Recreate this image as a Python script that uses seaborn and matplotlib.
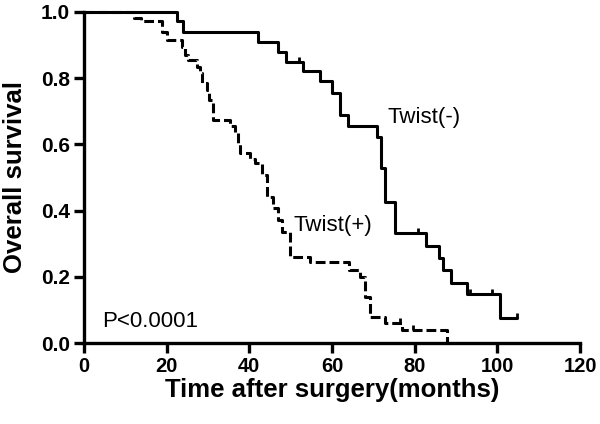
import numpy as np
import pandas as pd
import matplotlib
matplotlib.use("Agg")
import matplotlib.pyplot as plt
import seaborn as sns
from matplotlib.path import Path

# Twist(-) group (solid)
neg_time = [0, 22.4, 24.0, 42.2, 47.0, 48.9, 52.9, 57.1, 59.9, 61.9, 63.9, 70.8, 71.8, 72.8,
            75.2, 82.7, 86.0, 86.8, 88.7, 92.6, 100.6, 104.7]
neg_surv = [1.0, 0.971, 0.94, 0.91, 0.88, 0.85, 0.82, 0.79, 0.754, 0.689, 0.656, 0.623, 0.53,
            0.427, 0.331, 0.293, 0.256, 0.22, 0.182, 0.148, 0.0745, 0.0745]
neg_cens_time = [52.0, 80.9, 93.5, 98.6, 104.7]
neg_cens_surv = [0.85, 0.331, 0.148, 0.148, 0.0745]

# Twist(+) group (dashed)
pos_time = [0, 12.1, 13.7, 18.8, 20.0, 23.6, 24.4, 25.2, 27.3, 28.1, 28.5, 29.7, 30.2, 31.1,
            35.3, 36.5, 37.2, 37.7, 40.2, 41.4, 43.0, 44.2, 45.8, 47.0, 48.0, 49.8, 54.7,
            64.0, 66.8, 68.0, 69.2, 72.8, 76.9, 87.7]
pos_surv = [1.0, 0.983, 0.971, 0.94, 0.915, 0.895, 0.87, 0.855, 0.835, 0.815, 0.785, 0.764,
            0.734, 0.672, 0.654, 0.634, 0.605, 0.574, 0.556, 0.544, 0.508, 0.442, 0.407,
            0.372, 0.336, 0.26, 0.245, 0.22, 0.2, 0.14, 0.08, 0.06, 0.04, 0.0]
pos_cens_time = [76.5, 79.7]
pos_cens_surv = [0.06, 0.04]

x_ticks = [0, 20, 40, 60, 80, 100, 120]
y_ticks = [0.0, 0.2, 0.4, 0.6, 0.8, 1.0]

sns.set_style("ticks")
plt.rcParams['font.family'] = ['Liberation Sans', 'DejaVu Sans']
plt.rcParams['text.color'] = 'black'
plt.rcParams['axes.labelcolor'] = 'black'
plt.rcParams['xtick.color'] = 'black'
plt.rcParams['ytick.color'] = 'black'

fig = plt.figure(figsize=(6.0, 4.24), dpi=100)
ax = fig.add_axes([0.14, 0.191, 0.8267, 0.781])

df_pos = pd.DataFrame({"t": pos_time, "s": pos_surv})
df_neg = pd.DataFrame({"t": neg_time, "s": neg_surv})

lw = 2.2
sns.lineplot(data=df_pos, x="t", y="s", ax=ax, estimator=None, sort=False,
             drawstyle="steps-post", color="black", linewidth=lw,
             dashes=False, linestyle=(0, (3.2, 1.3)), clip_on=False)
sns.lineplot(data=df_neg, x="t", y="s", ax=ax, estimator=None, sort=False,
             drawstyle="steps-post", color="black", linewidth=lw, clip_on=False)

tick_marker = Path([(0, 0), (0, 1)])
sns.scatterplot(x=neg_cens_time, y=neg_cens_surv, ax=ax, marker=tick_marker, s=60,
                color="black", edgecolor="black", linewidth=2.0, clip_on=False)
sns.scatterplot(x=pos_cens_time, y=pos_cens_surv, ax=ax, marker=tick_marker, s=60,
                color="black", edgecolor="black", linewidth=2.0, clip_on=False)

ax.set_xlim(0, 120)
ax.set_ylim(0, 1.0)
ax.set_xticks(x_ticks)
ax.set_yticks(y_ticks)
ax.set_xticklabels([str(v) for v in x_ticks], fontsize=14.5, fontweight="bold", color="black")
ax.set_yticklabels([f"{v:.1f}" for v in y_ticks], fontsize=15, fontweight="bold", color="black")
ax.tick_params(axis="both", direction="out", length=7, width=2.4, pad=3, color="black")
for side in ["left", "bottom"]:
    ax.spines[side].set_linewidth(2.4)
    ax.spines[side].set_color("black")
sns.despine(ax=ax)

ax.set_xlabel("Time after surgery(months)", fontsize=18.5, fontweight="bold", color="black",
              labelpad=1.5)
ax.set_ylabel("Overall survival", fontsize=18.5, fontweight="bold", color="black",
              labelpad=10)

ax.text(73.5, 0.68, "Twist(-)", fontsize=16, ha="left", va="center", color="black")
ax.text(50.6, 0.356, "Twist(+)", fontsize=16, ha="left", va="center", color="black")
ax.text(4.5, 0.064, "P<0.0001", fontsize=16, ha="left", va="center", color="black")

fig.savefig("out.png", dpi=100)
